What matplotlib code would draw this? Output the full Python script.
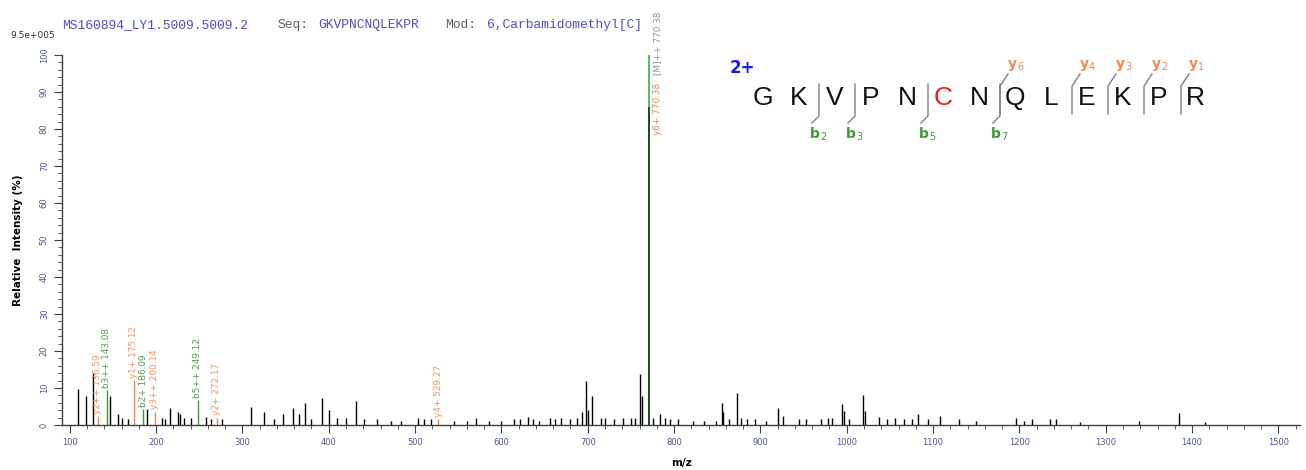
import matplotlib
matplotlib.use('Agg')
import matplotlib.pyplot as plt
from matplotlib.ticker import MultipleLocator

# peaks (m/z, relative intensity %)
peak_mz = [109, 118.5, 127.4, 146.4, 156, 160, 168, 189.6, 207, 210, 215.9, 225.5, 228,
           232, 240, 258, 264, 276, 310.5, 324.8, 336, 347, 358.8, 365.7, 373, 380,
           391.7, 400.5, 410, 420, 431, 441, 456, 472, 484, 503, 510, 518, 545, 560,
           571, 586, 600, 615, 622, 630.8, 636, 644, 656, 662, 669, 680, 688, 693,
           698, 700, 705.3, 715, 720, 730, 741, 750, 755, 760.9, 762.9, 776, 783.7,
           790, 795, 805, 822, 835, 848, 855.2, 857, 864, 872.6, 878, 885, 894, 906,
           920, 926, 945, 953, 970, 978, 983, 994.3, 997, 1003, 1018.6, 1021, 1037.5,
           1047, 1056, 1066, 1075, 1082.3, 1094, 1108.2, 1130, 1150, 1196.3, 1205,
           1215, 1235.7, 1242, 1270, 1338, 1385.2, 1415]
peak_int = [9.6, 7.8, 14.1, 7.8, 3.0, 2.0, 1.5, 4.3, 2.0, 1.6, 4.5, 3.5, 3.0,
            2.0, 2.0, 2.2, 1.5, 1.5, 5.0, 3.6, 1.5, 3.0, 4.6, 3.1, 6.0, 1.5,
            7.2, 4.0, 1.8, 1.8, 6.5, 1.5, 1.5, 1.2, 1.2, 2.0, 1.6, 1.5, 1.2, 1.2,
            2.0, 1.2, 1.2, 1.5, 1.5, 2.2, 1.5, 1.2, 2.0, 1.6, 1.8, 1.5, 1.8, 3.5,
            12.0, 4.0, 7.8, 2.0, 2.0, 1.5, 2.0, 2.0, 1.8, 13.8, 7.8, 1.8, 3.0,
            2.0, 1.5, 1.5, 1.2, 1.2, 1.2, 6.0, 3.5, 1.5, 8.7, 2.0, 1.5, 1.5, 1.2,
            4.6, 2.5, 1.5, 1.5, 1.5, 1.8, 2.0, 5.6, 3.9, 1.5, 8.1, 3.9, 2.1,
            1.5, 2.0, 1.5, 1.5, 3.0, 1.5, 2.3, 1.5, 1.0, 2.0, 1.2,
            1.5, 1.6, 1.5, 0.8, 1.2, 3.3, 0.8]

# annotated fragment peaks
frag_mz = [132.5, 143.0, 174.2, 185.0, 198.5, 248.0, 270.0, 527.0]
frag_int = [2.5, 9.5, 12.2, 4.2, 3.6, 6.7, 2.0, 1.5]
frag_lab = ['y2++ 136.59', 'b3++ 143.08', 'y1+ 175.12', 'b2+ 186.09',
            'y3++ 200.14', 'b5++ 249.12', 'y2+ 272.17', 'y4+ 529.27']
frag_kind = ['y', 'b', 'y', 'b', 'y', 'b', 'y', 'y']

# precursor / y6 peak
main_mz = 770.38
main_int = [100, 86]

# sequence panel
sequence = list('GKVPNCNQLEKPR')
b_ions = [(2, 819), (3, 855), (5, 928), (7, 1000)]
y_ions = [(6, 1000), (4, 1072), (3, 1108), (2, 1144), (1, 1181)]

GREEN = '#3a9a32'
ORANGE = '#f4874f'
TICKC = '#4a5590'

W, H = 1306, 470
fig = plt.figure(figsize=(W / 100, H / 100), dpi=100)
ax = fig.add_axes([62 / W, 45 / H, (1300 - 62) / W, 370 / H])

ax.vlines(peak_mz, 0, peak_int, color='black', lw=1.0)
for mz, it, lab, kind in zip(frag_mz, frag_int, frag_lab, frag_kind):
    c = GREEN if kind == 'b' else ORANGE
    ax.vlines(mz, 0, it, color=c, lw=1.0)
    ax.text(mz, it + 0.6, lab, rotation=90, ha='center', va='bottom',
            fontsize=6.4, color=c, alpha=0.9)

ax.vlines(main_mz, 0, main_int[0], color='#44aa44', lw=1.2)
ax.vlines(main_mz, 0, main_int[1], color='#0f3a12', lw=1.2)
ax.text(main_mz + 10, 78.4, 'y6+ 770.38', rotation=90, ha='center', va='bottom',
        fontsize=6.4, color=ORANGE)
ax.text(main_mz + 10, 94.6, '[M]++ 770.38', rotation=90, ha='center', va='bottom',
        fontsize=6.4, color='#909090', clip_on=False)

ax.set_xlim(91, 1525)
ax.set_ylim(0, 100)
for s in ['top', 'right']:
    ax.spines[s].set_visible(False)
for s in ['left', 'bottom']:
    ax.spines[s].set_color('#404040')
    ax.spines[s].set_linewidth(1.0)
ax.xaxis.set_major_locator(MultipleLocator(100))
ax.xaxis.set_minor_locator(MultipleLocator(20))
ax.yaxis.set_major_locator(MultipleLocator(10))
ax.yaxis.set_minor_locator(MultipleLocator(2))
ax.tick_params(axis='both', which='major', length=6, color='#404040',
               labelsize=6, labelcolor=TICKC)
ax.tick_params(axis='both', which='minor', length=3, color='#404040')
ax.tick_params(axis='y', labelrotation=90)
for t in ax.get_yticklabels():
    t.set_va('center')
ax.set_xlabel('m/z', fontsize=7.5, weight='bold', labelpad=8)
ax.set_ylabel('Relative  Intensity (%)', fontsize=7.5, weight='bold', labelpad=12)

# overlay in pixel coordinates for header and sequence panel
ov = fig.add_axes([0, 0, 1, 1])
ov.set_xlim(0, W)
ov.set_ylim(H, 0)
ov.axis('off')
ov.patch.set_alpha(0)

ov.text(10, 36, '9.5e+005', fontsize=6.5, color='#303030', va='center')
mono = 'Liberation Mono'
ov.text(62, 25, 'MS160894_LY1.5009.5009.2', family=mono, fontsize=9.4, color='#4c4ce0', va='center')
ov.text(278, 25, 'Seq:', family=mono, fontsize=9.4, color='#606060', va='center')
ov.text(318, 25, 'GKVPNCNQLEKPR', family=mono, fontsize=9.4, color='#4c4ce0', va='center')
ov.text(445, 25, 'Mod:', family=mono, fontsize=9.4, color='#606060', va='center')
ov.text(487, 25, '6,Carbamidomethyl[C]', family=mono, fontsize=9.4, color='#4c4ce0', va='center')

ov.text(742, 68, '2+', fontsize=12, weight='bold', color='#1a1aee', ha='center', va='center')
x0, step = 763, 36.0
for i, aa in enumerate(sequence):
    ov.text(x0 + i * step, 98, aa, fontsize=19, family='Liberation Sans',
            color='#ee1c1c' if aa == 'C' and i == 5 else '#111111',
            ha='center', va='center')

for n, x in b_ions:
    ov.plot([x, x, x - 7], [84, 116, 123], color='#808080', lw=1.0)
    ov.text(x + 1, 134, 'b', fontsize=10, weight='bold', color=GREEN, ha='right', va='center')
    ov.text(x + 1, 137, str(n), fontsize=7, color=GREEN, ha='left', va='center')
for n, x in y_ions:
    ov.plot([x, x, x + 8], [114, 86, 74], color='#808080', lw=1.0)
    ov.text(x + 17, 64, 'y', fontsize=10, weight='bold', color=ORANGE, ha='right', va='center')
    ov.text(x + 17, 67, str(n), fontsize=7, color=ORANGE, ha='left', va='center')

fig.savefig('out.png', dpi=100, facecolor='white')
